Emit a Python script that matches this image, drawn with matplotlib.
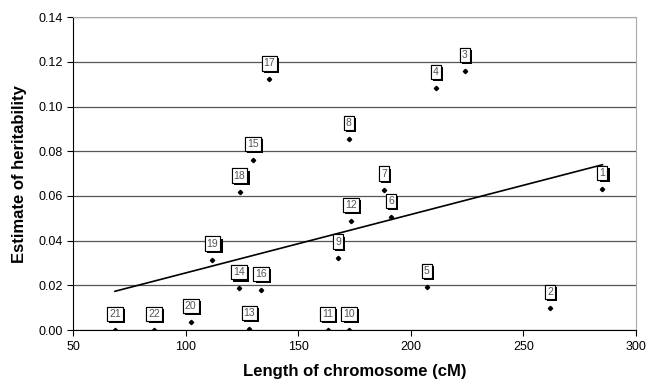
import numpy as np
import matplotlib
matplotlib.use("Agg")
import matplotlib.pyplot as plt
import matplotlib.patheffects as pe

plt.rcParams['font.family'] = ['Liberation Sans', 'DejaVu Sans']

# chromosome number, length (cM), heritability estimate
chrom = ['1', '2', '3', '4', '5', '6', '7', '8', '9', '10', '11',
         '12', '13', '14', '15', '16', '17', '18', '19', '20', '21', '22']
length_cm = [285.1, 261.8, 224.0, 211.0, 207.1, 191.3, 188.2, 172.4, 167.8, 172.7, 163.0,
             173.3, 128.3, 123.6, 130.0, 133.6, 137.2, 123.9, 111.9, 102.2, 68.6, 86.1]
heritability = [0.0632, 0.0098, 0.1160, 0.1082, 0.0194, 0.0507, 0.0629, 0.0854, 0.0325, 0.0, 0.0,
                0.0489, 0.0006, 0.0187, 0.0760, 0.0179, 0.1121, 0.0620, 0.0316, 0.0036, 0.0, 0.0]

x = np.array(length_cm)
y = np.array(heritability)

fig = plt.figure(figsize=(6.47, 3.88), dpi=100)
ax = fig.add_axes([0.113, 0.149, 0.870, 0.807])

# gridlines
ax.yaxis.grid(True, color='#555555', linewidth=0.9)
ax.set_axisbelow(True)

ax.plot(x, y, 'D', color='black', markersize=2.2)

# linear trend
slope, icpt = np.polyfit(x, y, 1)
xs = np.array([x.min(), x.max()])
ax.plot(xs, slope * xs + icpt, color='black', linewidth=1.2)

for lab, xi, yi in zip(chrom, x, y):
    t = ax.annotate(lab, (xi, yi), xytext=(0, 11.5), textcoords='offset points',
                    ha='center', va='center', fontsize=7.5, color='#555555',
                    bbox=dict(boxstyle='square,pad=0.2', fc='white', ec='black', lw=0.8))
    t.get_bbox_patch().set_path_effects([
        pe.withSimplePatchShadow(offset=(1.5, -1.5), shadow_rgbFace='black', alpha=1.0),
        pe.Normal()])

ax.set_xlim(50, 300)
ax.set_ylim(0, 0.14)
ax.set_xticks(np.arange(50, 301, 50))
ax.set_yticks(np.arange(0, 0.141, 0.02))
ax.yaxis.set_major_formatter(plt.FormatStrFormatter('%.2f'))
ax.tick_params(labelsize=9, length=4, width=0.8, direction='out')

ax.spines['top'].set_color('#aaaaaa')
ax.spines['right'].set_color('#aaaaaa')

ax.set_xlabel('Length of chromosome (cM)', fontsize=12, fontweight='bold', labelpad=8)
ax.set_ylabel('Estimate of heritability', fontsize=12, fontweight='bold', labelpad=8)

fig.savefig('out.png', dpi=100)
